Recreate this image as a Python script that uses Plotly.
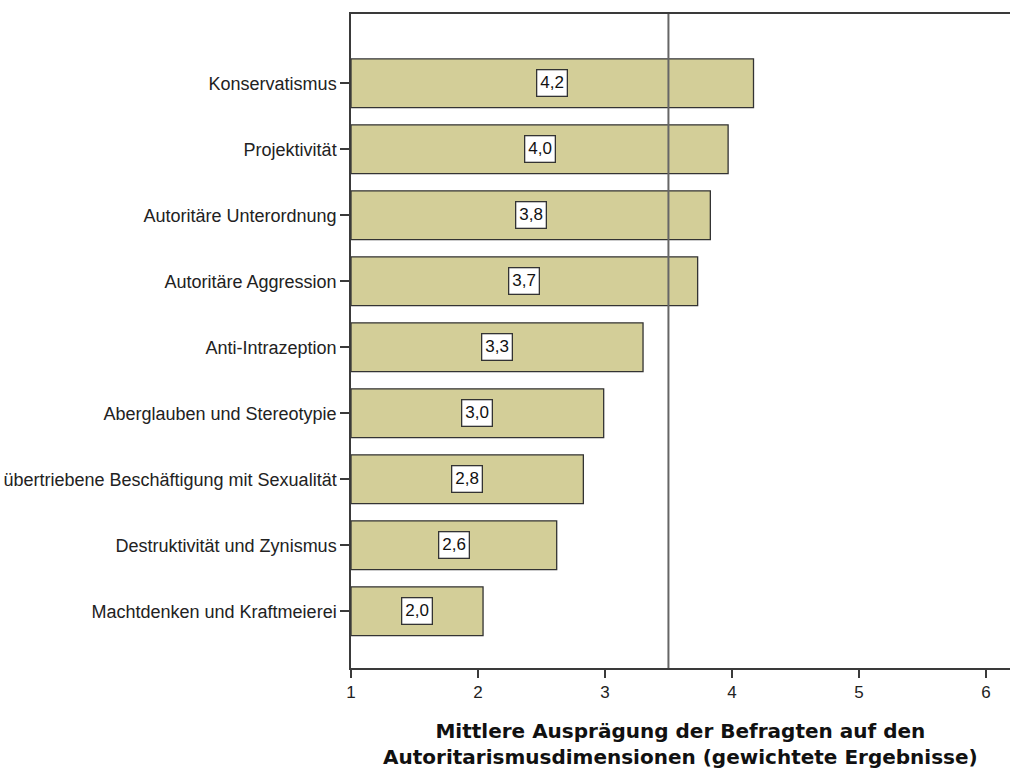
import plotly.graph_objects as go

categories = [
    "Konservatismus",
    "Projektivität",
    "Autoritäre Unterordnung",
    "Autoritäre Aggression",
    "Anti-Intrazeption",
    "Aberglauben und Stereotypie",
    "übertriebene Beschäftigung mit Sexualität",
    "Destruktivität und Zynismus",
    "Machtdenken und Kraftmeierei",
]
values = [4.17, 3.97, 3.83, 3.73, 3.30, 2.99, 2.83, 2.62, 2.04]
value_labels = ["4,2", "4,0", "3,8", "3,7", "3,3", "3,0", "2,8", "2,6", "2,0"]
axis_origin = 1
reference_value = 3.5
x_ticks = [1, 2, 3, 4, 5, 6]
title_lines = ["Mittlere Ausprägung der Befragten auf den",
               "Autoritarismusdimensionen (gewichtete Ergebnisse)"]

W, H = 1010, 769
ML, MR, MT, MB = 351, 0, 14, 101
plot_h = H - MT - MB

fig = go.Figure()
fig.add_trace(go.Bar(
    y=categories,
    x=[v - axis_origin for v in values],
    base=axis_origin,
    orientation="h",
    width=0.74,
    marker=dict(color="#d3ce98", line=dict(color="#333333", width=1.3)),
    hoverinfo="skip",
))

for cat, v, lab in zip(categories, values, value_labels):
    fig.add_annotation(
        x=(axis_origin + v) / 2, y=cat, text=lab, showarrow=False,
        font=dict(family="Liberation Sans, Arial", size=17, color="#111"),
        bgcolor="white", bordercolor="#333", borderwidth=1.3, borderpad=3,
    )

fig.add_shape(type="line", xref="x", yref="paper", x0=reference_value, x1=reference_value,
              y0=0, y1=1, line=dict(color="#666", width=2))

fig.add_annotation(
    xref="paper", yref="paper", x=0.5, y=-76 / plot_h, yanchor="middle",
    text="<b>" + "<br>".join(title_lines) + "</b>", showarrow=False,
    font=dict(family="DejaVu Sans", size=20, color="#111"),
)

fig.update_layout(
    width=W, height=H,
    margin=dict(l=ML, r=MR, t=MT, b=MB),
    plot_bgcolor="white", paper_bgcolor="white",
    showlegend=False,
    font=dict(family="Liberation Sans, Arial", size=17, color="#222"),
    xaxis=dict(
        range=[1, 6.19], tickvals=x_ticks, ticktext=[str(t) for t in x_ticks],
        showgrid=False, zeroline=False, showline=True, linecolor="#3a3a3a", linewidth=1.5,
        mirror=True, ticks="outside", ticklen=8, tickcolor="#3a3a3a", tickwidth=1.5,
        tickfont=dict(size=17, color="#222"),
    ),
    yaxis=dict(
        categoryorder="array", categoryarray=categories,
        range=[8.86, -1.05], showgrid=False, zeroline=False,
        showline=True, linecolor="#3a3a3a", linewidth=1.5,
        ticks="outside", ticklen=9, tickcolor="#3a3a3a", tickwidth=1.5,
        tickfont=dict(size=18, color="#222"),
    ),
)

fig.write_html(
    "out.html",
    config={"displayModeBar": False},
    post_script="document.body.style.margin='0';document.body.style.overflow='hidden';",
)
